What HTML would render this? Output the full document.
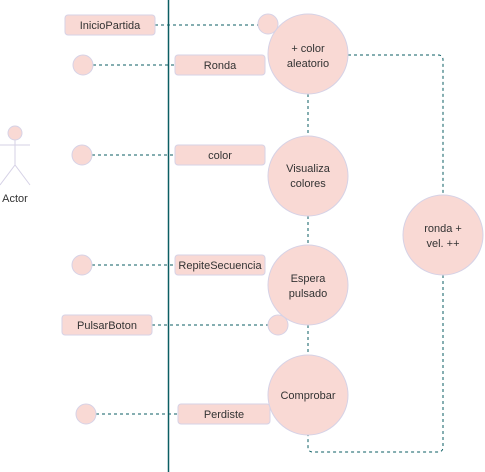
<!DOCTYPE html>
<html><head><style>body{margin:0;background:#fff}svg{display:block}text{font-family:"Liberation Sans",Arial,sans-serif;font-size:11px;fill:#333;text-anchor:middle}</style></head><body>
<svg width="485" height="472" viewBox="0 0 485 472">
<g fill="none" stroke="#0b5e63" stroke-width="1" stroke-dasharray="3,3">
<line x1="155" y1="25" x2="258" y2="25"/>
<line x1="93" y1="65" x2="175" y2="65"/>
<line x1="92" y1="155" x2="175" y2="155"/>
<line x1="92" y1="265" x2="175" y2="265"/>
<line x1="152" y1="325" x2="268" y2="325"/>
<line x1="96" y1="414" x2="178" y2="414"/>
<line x1="308" y1="94" x2="308" y2="136"/>
<line x1="308" y1="216" x2="308" y2="245"/>
<line x1="308" y1="325" x2="308" y2="355"/>
<path d="M348 55 H438 Q443 55 443 60 V195"/>
<path d="M443 275 V447 Q443 452 438 452 H313 Q308 452 308 447 V435"/>
</g>
<line x1="168.5" y1="0" x2="168.5" y2="472" stroke="#0b5e63" stroke-width="1.5"/>
<g fill="#f9d9d4" stroke="#d6d2e6" stroke-width="1">
<rect x="65" y="15" width="90" height="20" rx="3"/>
<rect x="175" y="55" width="90" height="20" rx="3"/>
<rect x="175" y="145" width="90" height="20" rx="3"/>
<rect x="175" y="255" width="90" height="20" rx="3"/>
<rect x="62" y="315" width="90" height="20" rx="3"/>
<rect x="178" y="404" width="92" height="20" rx="3"/>
<circle cx="268" cy="24" r="10"/>
<circle cx="278" cy="325" r="10"/>
<circle cx="83" cy="65" r="10"/>
<circle cx="82" cy="155" r="10"/>
<circle cx="82" cy="265" r="10"/>
<circle cx="86" cy="414" r="10"/>
<circle cx="308" cy="54" r="40"/>
<circle cx="308" cy="176" r="40"/>
<circle cx="308" cy="285" r="40"/>
<circle cx="308" cy="395" r="40"/>
<circle cx="443" cy="235" r="40"/>
<circle cx="15" cy="133" r="7"/>
</g>
<g stroke="#d6d2e6" stroke-width="1" fill="none">
<line x1="15" y1="140" x2="15" y2="165"/>
<line x1="0" y1="145" x2="30" y2="145"/>
<path d="M0 185 L15 165 L30 185"/>
</g>
<text x="110" y="29">InicioPartida</text>
<text x="220" y="69">Ronda</text>
<text x="220" y="159">color</text>
<text x="220" y="269">RepiteSecuencia</text>
<text x="107" y="329">PulsarBoton</text>
<text x="224" y="418">Perdiste</text>
<text x="308" y="52">+ color</text>
<text x="308" y="67">aleatorio</text>
<text x="308" y="172">Visualiza</text>
<text x="308" y="187">colores</text>
<text x="308" y="282">Espera</text>
<text x="308" y="297">pulsado</text>
<text x="308" y="399">Comprobar</text>
<text x="443" y="232">ronda +</text>
<text x="443" y="247">vel. ++</text>
<text x="15" y="202">Actor</text>
</svg>
</body></html>
